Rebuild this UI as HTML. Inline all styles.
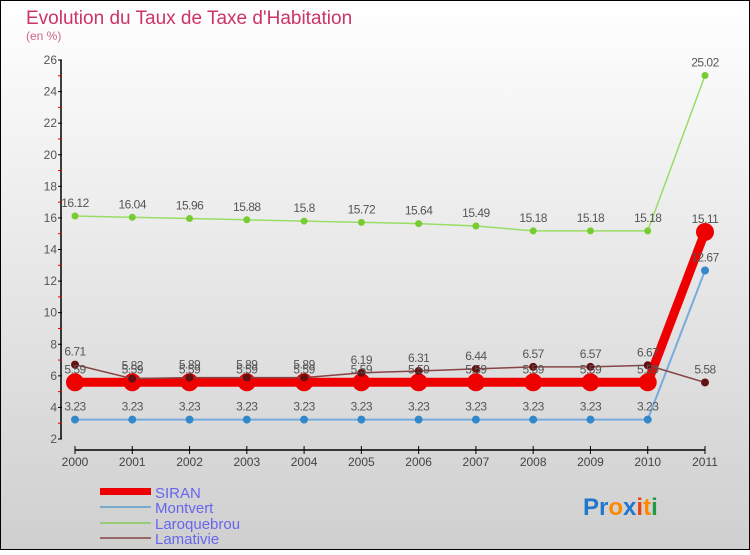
<!DOCTYPE html>
<html><head><meta charset="utf-8">
<style>
html,body{margin:0;padding:0}
body{width:750px;height:550px;overflow:hidden;font-family:"Liberation Sans","DejaVu Sans",sans-serif}
svg text{font-family:"Liberation Sans","DejaVu Sans",sans-serif}
</style></head>
<body>
<svg id="chart" width="750" height="550" xmlns="http://www.w3.org/2000/svg">
<defs>
<linearGradient id="bg" x1="0" y1="0" x2="0" y2="1">
<stop offset="0" stop-color="#ffffff"/><stop offset="1" stop-color="#cfcfcf"/>
</linearGradient>
</defs>
<rect x="0.5" y="0.5" width="749" height="549" fill="url(#bg)" stroke="#000"/>
<text x="26" y="24" font-size="19" fill="#cc3366">Evolution du Taux de Taxe d'Habitation</text>
<text x="26" y="40" font-size="12" fill="#cc6688">(en %)</text>
<g id="axes"></g>
<g id="series"></g>
<g id="labels"></g>
<g>
<rect x="100" y="488" width="51" height="7" fill="#ee0000"/>
<text x="155" y="498" font-size="15" fill="#6666ee">SIRAN</text>
<rect x="100" y="506" width="51" height="2" fill="#77aacc"/>
<text x="155" y="513" font-size="15" fill="#6666ee">Montvert</text>
<rect x="100" y="522" width="51" height="2" fill="#99cc77"/>
<text x="155" y="529" font-size="15" fill="#6666ee">Laroquebrou</text>
<rect x="100" y="537" width="51" height="2" fill="#996666"/>
<text x="155" y="544" font-size="15" fill="#6666ee">Lamativie</text>
</g>
<text x="583" y="515" font-size="24" font-weight="bold"><tspan fill="#2277cc">Pr</tspan><tspan fill="#ff8800">o</tspan><tspan fill="#2277cc">x</tspan><tspan fill="#ee4411">i</tspan><tspan fill="#ff8800">t</tspan><tspan fill="#229944">i</tspan></text>
</svg>
<script>
const years = ["2000","2001","2002","2003","2004","2005","2006","2007","2008","2009","2010","2011"];
const siran = [5.59,5.59,5.59,5.59,5.59,5.59,5.59,5.59,5.59,5.59,5.59,15.11];
const montvert = [3.23,3.23,3.23,3.23,3.23,3.23,3.23,3.23,3.23,3.23,3.23,12.67];
const laroquebrou = [16.12,16.04,15.96,15.88,15.8,15.72,15.64,15.49,15.18,15.18,15.18,25.02];
const lamativie = [6.71,5.82,5.89,5.89,5.89,6.19,6.31,6.44,6.57,6.57,6.67,5.58];
const yTicks = [2,4,6,8,10,12,14,16,18,20,22,24,26];

const NS="http://www.w3.org/2000/svg";
const X0=75, X1=705, YB=439, YT=60, VMIN=2, VMAX=26;
const xs=i=>X0+(X1-X0)*i/(years.length-1);
const ys=v=>YB-(YB-YT)*(v-VMIN)/(VMAX-VMIN);
function mk(tag,attrs,parent){const e=document.createElementNS(NS,tag);for(const k in attrs)e.setAttribute(k,attrs[k]);parent.appendChild(e);return e;}
const axes=document.getElementById('axes'), ser=document.getElementById('series'), lab=document.getElementById('labels');

let a=mk('line',{x1:61,y1:YT,x2:61,y2:YB,stroke:'#000','stroke-width':1.5},axes);


yTicks.forEach(t=>{
  const y=ys(t);
  const l=mk('line',{x1:58,y1:y,x2:62,y2:y,stroke:'#000'},axes);
  
  
  if(t<VMAX){const m=mk('line',{x1:58,y1:ys(t+1),x2:62,y2:ys(t+1),stroke:'#dd0000'},axes);
    
    }
  const tx=mk('text',{x:57,y:y+4,'font-size':12,fill:'#555','text-anchor':'end'},axes);
  tx.textContent=t;
  
  
});
a=mk('line',{x1:X0,y1:450,x2:X1,y2:450,stroke:'#000','stroke-width':1.5},axes);


years.forEach((yr,i)=>{
  const x=xs(i);
  const l=mk('line',{x1:x,y1:446,x2:x,y2:454,stroke:'#000'},axes);
  
  
  const tx=mk('text',{x:x,y:466,'font-size':12,fill:'#444','text-anchor':'middle'},axes);
  tx.textContent=yr;
  
  
});

function draw(name,data,color,dotColor,w,r){
  const pts=data.map((v,i)=>xs(i)+','+ys(v)).join(' ');
  const pl=mk('polyline',{points:pts,fill:'none',stroke:color,'stroke-width':w,'stroke-linejoin':'round'},ser);
  
  
  data.forEach((v,i)=>{
    const c=mk('circle',{cx:xs(i),cy:ys(v),r:r,fill:dotColor},ser);
    
    
    const t=mk('text',{x:xs(i),y:ys(v)-9,'font-size':12,fill:'#555','text-anchor':'middle','letter-spacing':'-0.5'},lab);
    t.textContent=v;
    
    
  });
}
draw('laroquebrou',laroquebrou,'#99dd66','#77cc33',1.5,3.5);
draw('montvert',montvert,'#77aadd','#3388cc',2,4);
draw('siran',siran,'#ee0000','#ee0000',9,9);
draw('lamativie',lamativie,'#884444','#661111',1.5,4);
</script>
</body></html>
